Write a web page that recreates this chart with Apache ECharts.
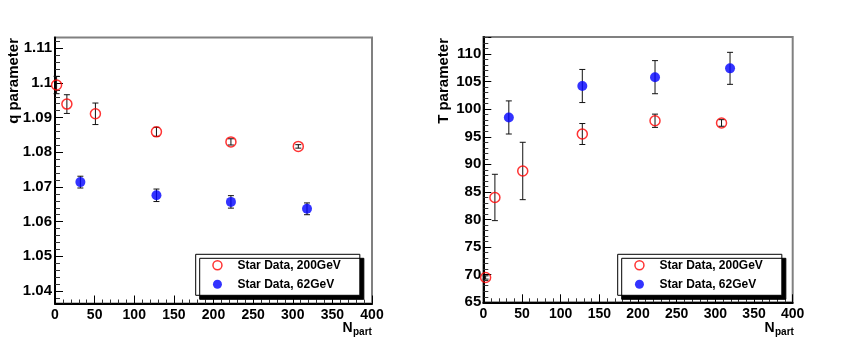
<!DOCTYPE html>
<html>
<head>
<meta charset="utf-8">
<script src="https://cdn.jsdelivr.net/npm/echarts@6.0.0/dist/echarts.min.js"></script>
<style>
  html, body { margin: 0; padding: 0; background: #fff; }
  #main { width: 844px; height: 349px; }
</style>
</head>
<body>
<div id="main"></div>
<script>
// left panel: q parameter vs Npart
var qNpart200 = [2, 15, 51, 128, 222, 307];
var q200 = [1.0994, 1.0939, 1.0911, 1.0859, 1.0830, 1.0817];
var q200Err = [0.0025, 0.0027, 0.0031, 0.0013, 0.0009, 0.0005];
var qNpart62 = [32, 128, 222, 318];
var q62 = [1.0714, 1.0676, 1.0657, 1.0637];
var q62Err = [0.0017, 0.0018, 0.0018, 0.0017];

// right panel: T parameter vs Npart
var tNpart200 = [3, 15, 51, 128, 222, 308];
var t200 = [69.5, 84.0, 88.8, 95.5, 97.9, 97.5];
var t200Err = [0.3, 4.2, 5.2, 1.9, 1.2, 0.6];
var tNpart62 = [33, 128, 222, 319];
var t62 = [98.5, 104.2, 105.8, 107.4];
var t62Err = [3.0, 3.0, 3.0, 2.9];

var legendNames = ['Star Data, 200GeV', 'Star Data, 62GeV'];
var xRange = [0, 400];
var qRange = [1.0364, 1.1131];
var tRange = [65, 113.08];

var FONT = '"Liberation Sans", Arial, Helvetica, sans-serif';

var chart = echarts.init(document.getElementById('main'));

// main frames
var L = { left: 55, top: 37.5, width: 317, height: 266 };
var R = { left: 483.3, top: 37, width: 309.4, height: 265.3 };

// pixel of a q value in the left frame (for the tick overlay grids)
function qPix(v) {
    return L.top + (qRange[1] - v) / (qRange[1] - qRange[0]) * L.height;
}
function qGrid(lo, hi) {
    return { left: L.left, width: L.width, top: qPix(hi), height: qPix(lo) - qPix(hi), show: false };
}

function pack(xs, ys, es) {
    return xs.map(function (x, i) { return [x, ys[i], es[i]]; });
}

function errorBars(params, api) {
    var x = api.value(0), y = api.value(1), e = api.value(2);
    var top = api.coord([x, y + e]);
    var bot = api.coord([x, y - e]);
    var st = { stroke: '#111', lineWidth: 1 };
    return {
        type: 'group',
        children: [
            { type: 'line', shape: { x1: top[0], y1: top[1], x2: bot[0], y2: bot[1] }, style: st },
            { type: 'line', shape: { x1: top[0] - 3, y1: top[1], x2: top[0] + 3, y2: top[1] }, style: st },
            { type: 'line', shape: { x1: bot[0] - 3, y1: bot[1], x2: bot[0] + 3, y2: bot[1] }, style: st }
        ]
    };
}

var xLabelStyle = { color: '#000', fontFamily: FONT, fontWeight: 'bold', fontSize: 14 };
var yLabelStyle = { color: '#000', fontFamily: FONT, fontWeight: 'bold', fontSize: 15 };

function mainX(grid) {
    return {
        type: 'value', gridIndex: grid, min: xRange[0], max: xRange[1], interval: 50,
        axisLine: { lineStyle: { color: '#000', width: 2 } },
        axisTick: { inside: true, length: 8, lineStyle: { color: '#000' } },
        minorTick: { show: true, splitNumber: 5, length: 4, lineStyle: { color: '#333' } },
        axisLabel: Object.assign({ margin: 5 }, xLabelStyle),
        splitLine: { show: false }
    };
}
function hiddenX(grid) {
    return { type: 'value', gridIndex: grid, min: xRange[0], max: xRange[1], show: false };
}

function legendFor(left) {
    return {
        left: left, top: 254.3, orient: 'vertical',
        padding: [5, 19, 5, 16.5],
        itemWidth: 9, itemHeight: 9, itemGap: 7,
        selectedMode: false,
        backgroundColor: '#fff', borderColor: '#000', borderWidth: 1,
        shadowColor: '#000', shadowBlur: 0, shadowOffsetX: 4, shadowOffsetY: 4,
        textStyle: { color: '#000', fontFamily: FONT, fontWeight: 'bold', fontSize: 12, lineHeight: 9, padding: [0, 0, 0, 10.5] },
        data: [
            { name: legendNames[0], icon: 'circle', itemStyle: { color: '#fff', borderColor: '#ff0000', borderWidth: 1.5 } },
            { name: legendNames[1], icon: 'circle', itemStyle: { color: '#0000ff', borderWidth: 0 } }
        ]
    };
}

var openCircle = { color: 'rgba(255,255,255,0)', borderColor: '#ff0000', borderWidth: 1.5 };
var fullCircle = { color: '#0000ff' };

chart.setOption({
    animation: false,
    backgroundColor: '#fff',
    grid: [
        { left: L.left, top: L.top, width: L.width, height: L.height, show: true, borderColor: '#808080', borderWidth: 2, backgroundColor: 'transparent' },
        qGrid(1.038, 1.112),
        qGrid(1.04, 1.11),
        { left: R.left, top: R.top, width: R.width, height: R.height, show: true, borderColor: '#808080', borderWidth: 2, backgroundColor: 'transparent' }
    ],
    xAxis: [mainX(0), hiddenX(1), hiddenX(2), mainX(3)],
    yAxis: [
        {
            type: 'value', gridIndex: 0, min: qRange[0], max: qRange[1],
            axisLine: { show: true, lineStyle: { color: '#000', width: 2 } },
            axisTick: { show: false }, axisLabel: { show: false }, splitLine: { show: false }
        },
        {
            // minor ticks of the q axis
            type: 'value', gridIndex: 1, min: 1.038, max: 1.112, interval: 0.002,
            axisLine: { show: false },
            axisTick: { inside: true, length: 5, lineStyle: { color: '#333' } },
            axisLabel: { show: false }, splitLine: { show: false }
        },
        {
            // major ticks and labels of the q axis
            type: 'value', gridIndex: 2, min: 1.04, max: 1.11, interval: 0.01,
            axisLine: { show: false },
            axisTick: { inside: true, length: 8, lineStyle: { color: '#000' } },
            axisLabel: Object.assign({ margin: 3, formatter: function (v) { return String(Number(v.toFixed(2))); } }, yLabelStyle),
            splitLine: { show: false }
        },
        {
            type: 'value', gridIndex: 3, min: tRange[0], max: tRange[1], interval: 5,
            axisLine: { show: true, lineStyle: { color: '#000', width: 2 } },
            axisTick: { inside: true, length: 8, lineStyle: { color: '#000' } },
            minorTick: { show: true, splitNumber: 5, length: 5, lineStyle: { color: '#333' } },
            axisLabel: Object.assign({ margin: 2, showMaxLabel: false }, yLabelStyle),
            splitLine: { show: false }
        }
    ],
    legend: [legendFor(195.7), legendFor(617.7)],
    graphic: [
        { type: 'text', x: 14, y: 38, rotation: Math.PI / 2,
          style: { text: 'q parameter', font: 'bold 15px ' + FONT, fill: '#000', textAlign: 'right', textVerticalAlign: 'middle' } },
        { type: 'text', x: 443.5, y: 38, rotation: Math.PI / 2,
          style: { text: 'T parameter', font: 'bold 15px ' + FONT, fill: '#000', textAlign: 'right', textVerticalAlign: 'middle' } },
        { type: 'text', x: 342.5, y: 328, style: { text: 'N', font: 'bold 14px ' + FONT, fill: '#000', textAlign: 'left', textVerticalAlign: 'middle' } },
        { type: 'text', x: 353, y: 332.5, style: { text: 'part', font: 'bold 10px ' + FONT, fill: '#000', textAlign: 'left', textVerticalAlign: 'middle' } },
        { type: 'text', x: 764.5, y: 328, style: { text: 'N', font: 'bold 14px ' + FONT, fill: '#000', textAlign: 'left', textVerticalAlign: 'middle' } },
        { type: 'text', x: 775, y: 332.5, style: { text: 'part', font: 'bold 10px ' + FONT, fill: '#000', textAlign: 'left', textVerticalAlign: 'middle' } }
    ],
    series: [
        { type: 'custom', xAxisIndex: 0, yAxisIndex: 0, renderItem: errorBars, data: pack(qNpart200, q200, q200Err), z: 2, clip: false },
        { type: 'custom', xAxisIndex: 0, yAxisIndex: 0, renderItem: errorBars, data: pack(qNpart62, q62, q62Err), z: 2, clip: false },
        { name: legendNames[0], type: 'scatter', xAxisIndex: 0, yAxisIndex: 0, symbol: 'circle', symbolSize: 10,
          itemStyle: openCircle, data: pack(qNpart200, q200, q200Err), z: 3, clip: false },
        { name: legendNames[1], type: 'scatter', xAxisIndex: 0, yAxisIndex: 0, symbol: 'circle', symbolSize: 10,
          itemStyle: fullCircle, data: pack(qNpart62, q62, q62Err), z: 3, clip: false },

        { type: 'custom', xAxisIndex: 3, yAxisIndex: 3, renderItem: errorBars, data: pack(tNpart200, t200, t200Err), z: 2, clip: false },
        { type: 'custom', xAxisIndex: 3, yAxisIndex: 3, renderItem: errorBars, data: pack(tNpart62, t62, t62Err), z: 2, clip: false },
        { name: legendNames[0], type: 'scatter', xAxisIndex: 3, yAxisIndex: 3, symbol: 'circle', symbolSize: 10,
          itemStyle: openCircle, data: pack(tNpart200, t200, t200Err), z: 3, clip: false },
        { name: legendNames[1], type: 'scatter', xAxisIndex: 3, yAxisIndex: 3, symbol: 'circle', symbolSize: 10,
          itemStyle: fullCircle, data: pack(tNpart62, t62, t62Err), z: 3, clip: false }
    ]
});
</script>
</body>
</html>
